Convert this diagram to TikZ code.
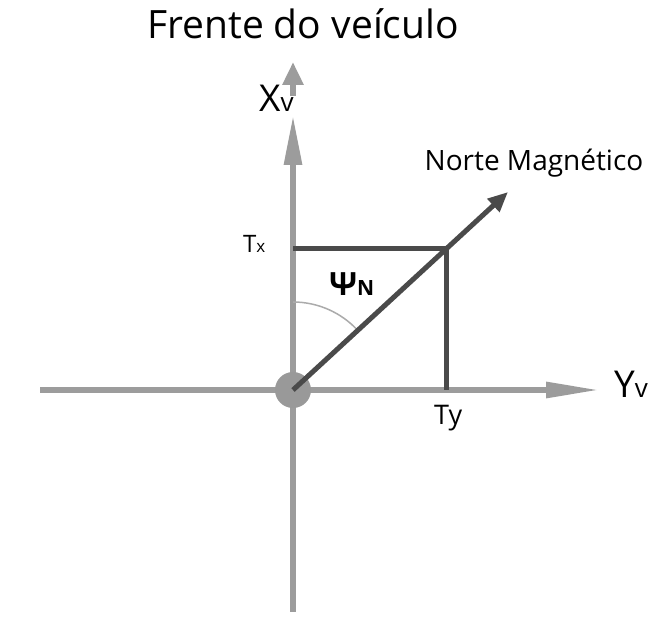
\documentclass[tikz,border=0pt]{standalone}
\usepackage{fontspec}
\setmainfont{Open Sans}
\usetikzlibrary{arrows.meta}
\definecolor{axisgray}{HTML}{9C9C9C}
\definecolor{vecgray}{HTML}{4A4A4A}
\definecolor{arcgray}{HTML}{ABABAB}
\definecolor{circgray}{HTML}{999999}
\begin{document}
\begin{tikzpicture}[x=1pt,y=-1pt,
  axis/.style={line width=6pt, draw=axisgray},
  vec/.style={line width=5pt, draw=vecgray},
  lbl/.style={inner sep=0pt, anchor=base west, text=black}]
\useasboundingbox (0,0) rectangle (665,620);
\fill[white] (0,0) rectangle (665,620);
% coordinates
\coordinate (O) at (293,390);
\coordinate (P) at (446,249);
\coordinate (N) at (508,192);
\coordinate (Xbot) at (293,612);
\coordinate (Xmid) at (293,115);
\coordinate (Xlow) at (293,96);
\coordinate (Xtop) at (293,62);
\coordinate (Yl) at (40,390);
\coordinate (Yr) at (600,390);
\coordinate (Tx) at (293,249);
\coordinate (Ty) at (446,390);
% axes
\draw[axis, -{Triangle[length=54pt,width=15pt]}] (Yl) -- (Yr);
\draw[axis, -{Triangle[length=50pt,width=17pt]}] (Xbot) -- (Xmid);
\draw[axis, -{Triangle[length=23pt,width=20pt]}] (Xlow) -- (Xtop);
% angle arc
\draw[arcgray, line width=1.5pt] (O) ++(-90:88) arc[start angle=-90, end angle=-42.7, radius=88];
% origin circle
\node[circle, fill=circgray, minimum size=36pt, inner sep=0pt] (Oc) at (O) {};
% components
\draw[vec] (Tx) -- (P) -- (Ty);
\draw[vec, -{Triangle[length=20pt,width=17pt]}] (O) -- (N);
% labels
\node[font=\fontsize{39}{44}\selectfont] (title) at (303,24) {Frente do veículo};
\node[lbl] (xv) at (259,112) {{\fontsize{37}{40}\selectfont X}{\fontsize{26}{30}\selectfont v}};
\node[lbl] (yv) at (614,398) {{\fontsize{37}{40}\selectfont Y}{\fontsize{26}{30}\selectfont v}};
\node[font=\fontsize{28}{32}\selectfont] (north) at (534,163) {Norte Magnético};
\node[lbl] (tx) at (243,253) {{\fontsize{24}{28}\selectfont T}{\fontsize{17}{20}\selectfont x}};
\node[lbl] (ty) at (434,425) {\fontsize{27}{30}\selectfont Ty};
\node[lbl] (psi) at (329,296) {{\fontsize{32}{36}\selectfont\bfseries Ψ}{\fontsize{21}{24}\selectfont\bfseries N}};
\end{tikzpicture}
\end{document}
